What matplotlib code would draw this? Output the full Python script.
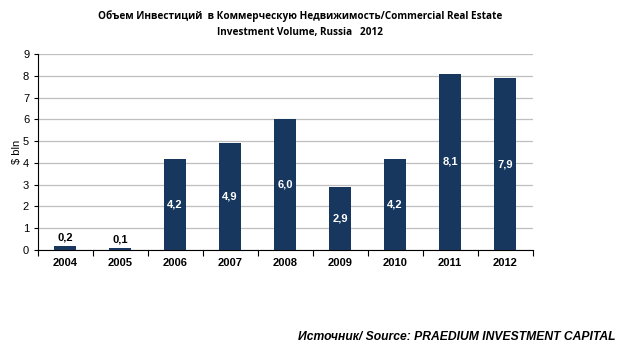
import matplotlib
matplotlib.use("Agg")
import matplotlib.pyplot as plt

years = ["2004", "2005", "2006", "2007", "2008", "2009", "2010", "2011", "2012"]
values = [0.2, 0.1, 4.2, 4.9, 6.0, 2.9, 4.2, 8.1, 7.9]
labels = ["0,2", "0,1", "4,2", "4,9", "6,0", "2,9", "4,2", "8,1", "7,9"]
yticks = [0, 1, 2, 3, 4, 5, 6, 7, 8, 9]

fig = plt.figure(figsize=(6.2, 3.47), dpi=100)
ax = fig.add_axes([0.0605, 0.2795, 0.7985, 0.5645])
x = list(range(len(years)))
bar_color = "#17375E"
ax.bar(x, values, width=0.41, color=bar_color, zorder=3)
ax.set_xlim(-0.5, len(years) - 0.5)
ax.set_ylim(0, 9)
ax.set_yticks(yticks)
ax.set_yticklabels([str(t) for t in yticks], fontsize=8, family="Liberation Sans")
ax.yaxis.grid(True, color="#BFBFBF", linewidth=0.9, zorder=0)
ax.set_axisbelow(True)
for s in ["top", "right"]:
    ax.spines[s].set_visible(False)
ax.spines["left"].set_color("black")
ax.spines["bottom"].set_color("black")
ax.tick_params(axis="y", length=3, direction="out", pad=3)
ax.set_xticks([i - 0.5 for i in range(len(years) + 1)], minor=False)
ax.set_xticklabels([""] * (len(years) + 1))
ax.tick_params(axis="x", which="major", length=4, direction="out")
ax.set_xticks(x, minor=True)
ax.set_xticklabels(years, minor=True, fontsize=8, fontweight="bold", family="Liberation Sans")
ax.tick_params(axis="x", which="minor", length=0, pad=6)
ax.set_ylabel("$ bln", fontsize=8, family="Liberation Sans", labelpad=1)

for xi, v, lab in zip(x, values, labels):
    if v < 1:
        ax.text(xi, v + 0.15, lab, ha="center", va="bottom", fontsize=8,
                fontweight="bold", color="black", family="Liberation Sans")
    else:
        ax.text(xi, v / 2, lab, ha="center", va="center", fontsize=8,
                fontweight="bold", color="white", family="Liberation Sans")

fig.text(0.484, 0.955, "Объем Инвестиций  в Коммерческую Недвижимость/Commercial Real Estate",
         ha="center", va="center", fontsize=7.2, fontweight="bold", family="Open Sans")
fig.text(0.484, 0.905, "Investment Volume, Russia   2012",
         ha="center", va="center", fontsize=7.2, fontweight="bold", family="Open Sans")
fig.text(0.992, 0.03, "Источник/ Source: PRAEDIUM INVESTMENT CAPITAL", ha="right", va="center",
         fontsize=8.7, fontweight="bold", fontstyle="italic", family="Liberation Sans")

fig.savefig("out.png", dpi=100)
